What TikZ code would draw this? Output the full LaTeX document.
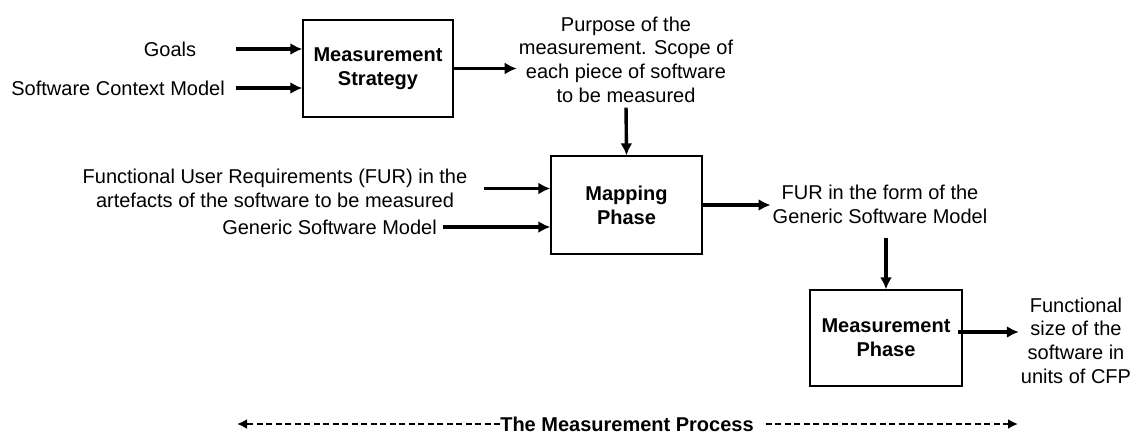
\documentclass[tikz,border=0pt]{standalone}
\usepackage{fontspec}
\setmainfont{Liberation Sans}
\usetikzlibrary{arrows.meta,positioning}

\begin{document}
\begin{tikzpicture}[x=1pt,y=-1pt,font=\fontsize{20}{23.7}\selectfont,
 stage/.style={draw,line width=1.4pt,minimum width=150pt,minimum height=97pt,align=center,font=\fontsize{20}{23.7}\selectfont\bfseries},
 lbl/.style={align=center,inner sep=2pt},
 flow/.style={-{Latex[length=12pt,width=12pt]},line width=3.4pt},
 span/.style={-{Latex[length=10pt,width=10pt]},line width=2pt,dash pattern=on 6pt off 3.5pt}]
\useasboundingbox (0,0) rectangle (1133,437);
\node[stage] (strat) at (378,68.5) {Measurement\\Strategy};
\node[lbl] (goals) at (170,49) {Goals};
\node[lbl,anchor=east] (scm) at (227,88) {Software Context Model};
\node[lbl] (purpose) at (626,59.5) {Purpose of the\\measurement. Scope of\\each piece of software\\to be measured};
\node[stage,minimum width=151pt,minimum height=98pt] (map) at (626.5,205) {Mapping\\Phase};
\node[lbl] (fur) at (275,188.5) {Functional User Requirements (FUR) in the\\artefacts of the software to be measured};
\node[lbl,anchor=east] (gsm) at (439,227) {Generic Software Model};
\node[lbl] (form) at (880,204.5) {FUR in the form of the\\Generic Software Model};
\node[stage,minimum width=152pt,minimum height=96pt] (meas) at (886,338) {Measurement\\Phase};
\node[lbl] (size) at (1076,340.5) {Functional\\size of the\\software in\\units of CFP};
\node[inner sep=0pt,font=\fontsize{20}{23.7}\selectfont\bfseries] (proc) at (627,424) {The Measurement Process};
\coordinate (procL) at (237,424); \coordinate (procR) at (1018,424);
% inputs and outputs of each phase
\draw[flow] ([xshift=38pt]goals.east) -- (strat.west |- goals);
\draw[flow] ([xshift=9pt]scm.east) -- (strat.west |- scm);
\draw[flow] (strat.east) -- (strat.east -| purpose.west);
\draw[flow,shorten <=3pt] (purpose.south) -- (map.north);
\draw[flow] ([xshift=15pt]fur.east) -- (map.west |- fur);
\draw[flow] ([xshift=4pt]gsm.east) -- (map.west |- gsm);
\draw[flow] (map.east) -- (map.east -| form.west);
\draw[flow,shorten <=12pt] (meas.north |- form.south) -- (meas.north);
\draw[flow] ([xshift=-5pt,yshift=6pt]meas.east) -- ([yshift=6pt]meas.east -| size.west);
% the whole process
\draw[span] (proc.west) -- (procL);
\draw[span,shorten <=12pt] (proc.east) -- (procR);
\end{tikzpicture}
\end{document}
